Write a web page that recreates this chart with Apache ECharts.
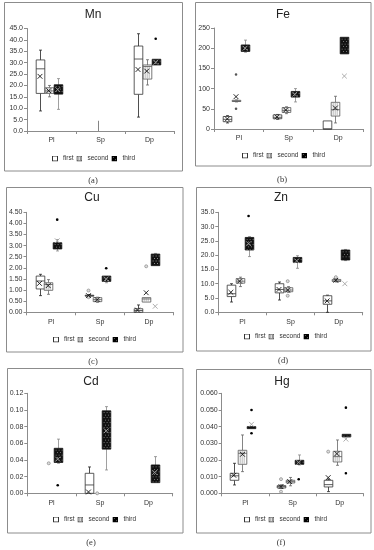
<!DOCTYPE html>
<html><head><meta charset="utf-8">
<script src="https://cdn.jsdelivr.net/npm/echarts@6/dist/echarts.min.js"></script>
<style>html,body{margin:0;padding:0;background:#fff}#c{width:374px;height:550px}</style>
</head><body><div id="c"></div>
<script>
const categories = ['Pl', 'Sp', 'Dp'];
const groups = ['first', 'second', 'third'];

// Boxes: [min, Q1, median, Q3, max] per category (Pl, Sp, Dp)
const mnFirst  = [[8.8, 16.5, 27.3, 31.2, 35.5], null, [6.1, 16.1, 31.6, 37.3, 42.7]];
const mnSecond = [[15.0, 16.5, 17.6, 19.0, 20.0], [0, 0, 0, 0, 4.5], [20.2, 22.8, 28.3, 29.0, 31.3]];
const mnThird  = [[9.5, 16.2, 18.3, 20.3, 23.0], null, [28.9, 29.0, 30.0, 31.5, 31.6]];
const mnMeans  = [[24.0, null, 27.0], [17.7, null, 26.3], [18.2, null, 30.2]];
const mnOutliers = [[2, 2, 40.5]];           // [group, category, value]
const mnInner = [];

const feFirst  = [[15, 18, 24, 31, 33], [24, 25.5, 29, 35, 36], [0, 0, 0, 20, 20]];
const feSecond = [[67, 68, 69, 71, 72], [38, 41, 46, 53, 55], [15, 32, 48, 66, 81]];
const feThird  = [[190, 192, 198, 208, 220], [67, 79, 86, 93, 100], [186, 186, 200, 227, 227]];
const feMeans  = [[25, 30, null], [80, 47, 52], [200, 86, 131]];
const feOutliers = [[1, 0, 135], [1, 0, 50]];
const feInner = [];

const cuFirst  = [[0.75, 1.05, 1.41, 1.63, 1.71], [0.70, 0.73, 0.75, 0.77, 0.80], [0, 0, 0.08, 0.16, 0.33]];
const cuSecond = [[0.81, 0.99, 1.25, 1.33, 1.47], [0.45, 0.48, 0.57, 0.66, 0.68], [0.46, 0.46, 0.60, 0.66, 0.66]];
const cuThird  = [[2.76, 2.85, 3.00, 3.13, 3.27], [1.33, 1.39, 1.50, 1.63, 1.63], [2.10, 2.10, 2.35, 2.62, 2.65]];
const cuMeans  = [[1.30, 0.75, 0.10], [1.20, 0.57, 0.88], [3.22, 1.50, 0.27]];
const cuOutliers = [[2, 0, 4.17], [2, 1, 1.98]];
const cuInner = [[0, 1, 0.98], [0, 1, 0.68], [1, 2, 2.07]];

const znFirst  = [[3.6, 5.5, 6.5, 9.5, 10.0], [4.3, 6.8, 8.0, 10.0, 10.6], [0, 2.8, 4.0, 5.8, 6.0]];
const znSecond = [[9.0, 10.2, 10.9, 11.8, 12.3], [7.0, 7.2, 7.8, 8.6, 9.0], [10.6, 10.8, 11.0, 11.5, 11.8]];
const znThird  = [[19.5, 21.8, 23.5, 26.2, 26.5], [15.4, 17.5, 18.2, 19.2, 19.8], [18.1, 18.3, 20.0, 21.8, 22.0]];
const znMeans  = [[7.0, 8.0, 4.0], [10.9, 7.8, 11.2], [24.0, 18.0, 10.0]];
const znOutliers = [[2, 0, 33.7]];
const znInner = [[1, 1, 10.9], [1, 1, 5.8], [1, 2, 12.3]];

const cdFirst  = [null, [0, 0, 0.010, 0.024, 0.0316], null];
const cdSecond = [null, null, null];
const cdThird  = [[0.036, 0.037, 0.045, 0.054, 0.065], [0.028, 0.053, 0.075, 0.099, 0.104], [0.0128, 0.0128, 0.025, 0.034, 0.044]];
const cdMeans  = [[null, 0.0016, null], [null, null, null], [0.041, 0.075, 0.025]];
const cdOutliers = [[2, 0, 0.0096]];
const cdInner = [[1, 0, 0.036], [1, 1, 0.0]];

const hgFirst  = [[0.005, 0.0078, 0.0105, 0.012, 0.018], [0.003, 0.0032, 0.004, 0.0046, 0.005], [0.001, 0.0038, 0.0052, 0.0078, 0.0085]];
const hgSecond = [[0.013, 0.0174, 0.024, 0.0258, 0.035], [0.0045, 0.0062, 0.007, 0.0078, 0.0095], [0.0168, 0.0188, 0.022, 0.0252, 0.032]];
const hgThird  = [[0.0388, 0.0388, 0.0395, 0.040, 0.040], [0.017, 0.0174, 0.0185, 0.0198, 0.023], [0.0338, 0.0338, 0.0345, 0.0354, 0.0354]];
const hgMeans  = [[0.0108, 0.004, 0.0094], [0.0234, 0.007, 0.0238], [0.0414, 0.0185, 0.0325]];
const hgOutliers = [[2, 0, 0.050], [2, 0, 0.036], [2, 1, 0.0084], [2, 2, 0.0514], [2, 2, 0.012]];
const hgInner = [[0, 1, 0.0085], [0, 1, 0.001], [0, 2, 0.025]];

// Y axis scales: [min, max, interval, decimals]
const mnAxis = [0, 45, 5, 1];
const feAxis = [0, 250, 50, 0];
const cuAxis = [0, 4.5, 0.5, 2];
const znAxis = [0, 35, 5, 1];
const cdAxis = [0, 0.12, 0.02, 2];
const hgAxis = [0, 0.06, 0.01, 3];

const panels = [
  {title: 'Mn', label: '(a)', boxes: [mnFirst, mnSecond, mnThird], means: mnMeans, out: mnOutliers, inner: mnInner, axis: mnAxis},
  {title: 'Fe', label: '(b)', boxes: [feFirst, feSecond, feThird], means: feMeans, out: feOutliers, inner: feInner, axis: feAxis},
  {title: 'Cu', label: '(c)', boxes: [cuFirst, cuSecond, cuThird], means: cuMeans, out: cuOutliers, inner: cuInner, axis: cuAxis},
  {title: 'Zn', label: '(d)', boxes: [znFirst, znSecond, znThird], means: znMeans, out: znOutliers, inner: znInner, axis: znAxis},
  {title: 'Cd', label: '(e)', boxes: [cdFirst, cdSecond, cdThird], means: cdMeans, out: cdOutliers, inner: cdInner, axis: cdAxis},
  {title: 'Hg', label: '(f)', boxes: [hgFirst, hgSecond, hgThird], means: hgMeans, out: hgOutliers, inner: hgInner, axis: hgAxis}
];

// ---- layout & style (not data) ----
const layouts = [
  {grid: [27, 28.5, 147, 102.5], border: [4.5, 2.5, 178, 168.5], title: [93, 15], legend: [52, 155], caption: [93, 181]},
  {grid: [214, 28, 149, 101], border: [195.5, 2.5, 175.5, 163.5], title: [283, 15], legend: [242, 152], caption: [282, 180]},
  {grid: [26.5, 212.3, 147, 100], border: [6.5, 187.5, 176.5, 164.5], title: [92, 198], legend: [53, 336], caption: [93, 362]},
  {grid: [218.3, 212.3, 144.4, 100], border: [196.5, 187.5, 174.5, 163.5], title: [281, 198], legend: [244, 333], caption: [283, 361]},
  {grid: [27.3, 393.3, 145.4, 100], border: [7.5, 368.5, 175.5, 164.5], title: [91, 382], legend: [53, 516], caption: [91, 543]},
  {grid: [221.7, 393.3, 141.6, 100], border: [196.5, 369.5, 174.5, 163.5], title: [282, 382], legend: [244, 516], caption: [281, 543]}
];
const OFFSETS = [-11.5, -2.8, 6.2];
const HALF = 4.3;
const FONT = '"Liberation Sans", Arial, sans-serif';

function ln(x1, y1, x2, y2, c, w) {
  return {type: 'line', shape: {x1: x1, y1: y1, x2: x2, y2: y2}, style: {stroke: c, lineWidth: w || 0.8}};
}
function makeBoxRender(g) {
  return function (params, api) {
    const cat = api.value(0);
    const pMin = api.coord([cat, api.value(1)]);
    const yQ1 = api.coord([cat, api.value(2)])[1];
    const yMed = api.coord([cat, api.value(3)])[1];
    const yQ3 = api.coord([cat, api.value(4)])[1];
    const yMax = api.coord([cat, api.value(5)])[1];
    const cx = Math.round(pMin[0] + OFFSETS[g]) + 0.5;
    const left = cx - HALF, w = HALF * 2;
    const top = yQ3, h = Math.max(yQ1 - yQ3, 1);
    const wcol = ['#222', '#666', '#888'][g];
    const ch = [];
    const hasBox = api.value(4) > api.value(2);
    if (yMax < yQ3 - 0.3) {
      ch.push(ln(cx, yMax, cx, yQ3, wcol));
      if (hasBox) ch.push(ln(cx - 1.5, yMax, cx + 1.5, yMax, wcol));
    }
    if (pMin[1] > yQ1 + 0.3) { ch.push(ln(cx, yQ1, cx, pMin[1], wcol)); ch.push(ln(cx - 1.5, pMin[1], cx + 1.5, pMin[1], wcol)); }
    if (!hasBox) return {type: 'group', children: ch};
    const fill = g === 2 ? '#111' : '#fff';
    const stroke = ['#333', '#555', '#111'][g];
    ch.push({type: 'rect', shape: {x: left, y: top, width: w, height: h}, style: {fill: fill, stroke: stroke, lineWidth: 0.8}});
    if (g === 1) {
      for (let x = left + 2; x < left + w - 0.8; x += 2) ch.push(ln(x, top + 0.6, x, top + h - 0.6, '#8a8a8a', 0.6));
    }
    if (g === 2) {
      let row = 0;
      for (let y = top + 1.5; y < top + h - 1; y += 2.5, row++) {
        for (let x = left + 1.5 + (row % 2) * 1.5; x < left + w - 1; x += 3) {
          ch.push({type: 'rect', shape: {x: x, y: y, width: 0.8, height: 0.8}, style: {fill: '#aaa'}});
        }
      }
    }
    if (g !== 2) ch.push(ln(left, yMed, left + w, yMed, stroke));
    return {type: 'group', children: ch};
  };
}
function makeMarkRender(g, kind) {
  return function (params, api) {
    const p = api.coord([api.value(0), api.value(1)]);
    const x = p[0] + OFFSETS[g], y = p[1];
    if (kind === 'mean') {
      const s = 2.4, c = g === 2 ? '#a5a5a5' : '#111';
      return {type: 'group', children: [ln(x - s, y - s, x + s, y + s, c, 0.9), ln(x - s, y + s, x + s, y - s, c, 0.9)]};
    }
    if (kind === 'out') {
      return {type: 'circle', shape: {cx: x, cy: y, r: 1.3}, style: {fill: g === 1 ? '#555' : '#000'}};
    }
    return {type: 'circle', shape: {cx: x, cy: y, r: 1.5}, style: {fill: '#ddd', stroke: '#888', lineWidth: 0.7}};
  };
}
function svgIcon(inner) {
  return 'image://data:image/svg+xml;charset=utf-8,' + encodeURIComponent(
    "<svg xmlns='http://www.w3.org/2000/svg' width='6' height='6' viewBox='0 0 6 6'>" + inner + "</svg>");
}
const ICONS = [
  svgIcon("<rect x='0.5' y='0.5' width='5' height='5' fill='#fff' stroke='#333' stroke-width='1'/>"),
  svgIcon("<rect x='0.5' y='0.5' width='5' height='5' fill='#fff' stroke='#333' stroke-width='1'/><rect x='2' y='1' width='0.8' height='4' fill='#777'/><rect x='3.6' y='1' width='0.8' height='4' fill='#777'/>"),
  svgIcon("<rect x='0' y='0' width='6' height='6' fill='#000'/><rect x='1.5' y='1.5' width='0.8' height='0.8' fill='#999'/><rect x='3.8' y='3.8' width='0.8' height='0.8' fill='#999'/>")
];

const grid = [], xAxis = [], yAxis = [], series = [], legend = [], graphic = [];
panels.forEach(function (p, pi) {
  const L = layouts[pi];
  grid.push({left: L.grid[0], top: L.grid[1], width: L.grid[2], height: L.grid[3]});
  xAxis.push({type: 'category', gridIndex: pi, data: categories, boundaryGap: true,
    axisLine: {lineStyle: {color: '#8c8c8c', width: 1}},
    axisTick: {show: true, length: 3, lineStyle: {color: '#8c8c8c'}},
    axisLabel: {fontSize: 7, color: '#333', margin: 6, fontFamily: FONT},
    splitLine: {show: false}});
  const dec = p.axis[3];
  yAxis.push({type: 'value', gridIndex: pi, min: p.axis[0], max: p.axis[1], interval: p.axis[2],
    axisLine: {show: true, lineStyle: {color: '#8c8c8c', width: 1}},
    axisTick: {show: true, length: 3, lineStyle: {color: '#8c8c8c'}},
    axisLabel: {fontSize: 7, color: '#333', margin: 4, fontFamily: FONT, formatter: function (v) { return v.toFixed(dec); }},
    splitLine: {show: false}});
  groups.forEach(function (gname, g) {
    const boxData = [];
    p.boxes[g].forEach(function (b, ci) { if (b) boxData.push([ci].concat(b)); });
    series.push({type: 'custom', name: gname, xAxisIndex: pi, yAxisIndex: pi, renderItem: makeBoxRender(g),
      encode: {x: 0, y: [1, 2, 3, 4, 5]}, data: boxData, z: 2, silent: true});
    const meanData = [];
    p.means[g].forEach(function (v, ci) { if (v != null) meanData.push([ci, v]); });
    series.push({type: 'custom', name: gname, xAxisIndex: pi, yAxisIndex: pi, renderItem: makeMarkRender(g, 'mean'),
      encode: {x: 0, y: 1}, data: meanData, z: 4, silent: true});
    series.push({type: 'custom', name: gname, xAxisIndex: pi, yAxisIndex: pi, renderItem: makeMarkRender(g, 'out'),
      encode: {x: 0, y: 1}, data: p.out.filter(function (o) { return o[0] === g; }).map(function (o) { return [o[1], o[2]]; }), z: 4, silent: true});
    series.push({type: 'custom', name: gname, xAxisIndex: pi, yAxisIndex: pi, renderItem: makeMarkRender(g, 'inner'),
      encode: {x: 0, y: 1}, data: p.inner.filter(function (o) { return o[0] === g; }).map(function (o) { return [o[1], o[2]]; }), z: 3, silent: true});
  });
  legend.push({left: L.legend[0], top: L.legend[1], orient: 'horizontal', itemWidth: 6, itemHeight: 6, itemGap: 3, padding: 0,
    selectedMode: false, textStyle: {fontSize: 6.5, color: '#333', fontFamily: FONT},
    data: groups.map(function (g, i) { return {name: g, icon: ICONS[i]}; })});
  graphic.push({type: 'rect', shape: {x: L.border[0], y: L.border[1], width: L.border[2], height: L.border[3]},
    style: {fill: 'none', stroke: '#8c8c8c', lineWidth: 1}, silent: true});
  graphic.push({type: 'text', x: L.title[0], y: L.title[1], silent: true,
    style: {text: p.title, fill: '#222', font: '12px ' + FONT, align: 'center', verticalAlign: 'middle', textAlign: 'center', textVerticalAlign: 'middle'}});
  graphic.push({type: 'text', x: L.caption[0], y: L.caption[1], silent: true,
    style: {text: p.label, fill: '#333', font: '8.5px "Liberation Serif", serif', align: 'center', verticalAlign: 'middle', textAlign: 'center', textVerticalAlign: 'middle'}});
});

const chart = echarts.init(document.getElementById('c'), null, {renderer: 'canvas'});
chart.setOption({
  animation: false,
  backgroundColor: '#fff',
  grid: grid, xAxis: xAxis, yAxis: yAxis, series: series, legend: legend, graphic: graphic
});
</script>
</body></html>
